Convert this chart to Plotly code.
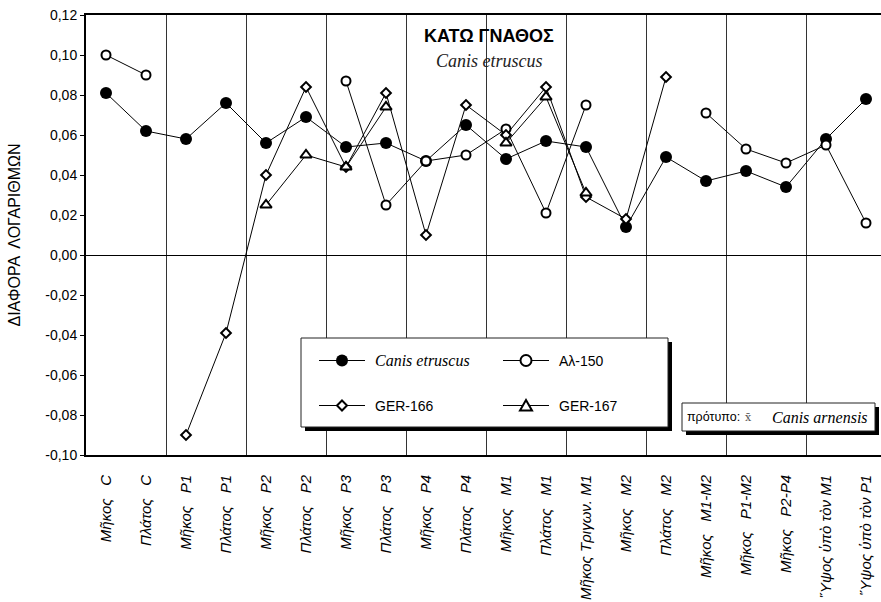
import plotly.graph_objects as go

# ---- data -------------------------------------------------------------
categories = [
    "Μῆκος   C", "Πλάτος   C", "Μῆκος   P1", "Πλάτος   P1", "Μῆκος   P2", "Πλάτος   P2",
    "Μῆκος   P3", "Πλάτος   P3", "Μῆκος   P4", "Πλάτος   P4", "Μῆκος   M1", "Πλάτος   M1",
    "Μῆκος Τριγων. M1", "Μῆκος   M2", "Πλάτος   M2", "Μῆκος   M1-M2", "Μῆκος   P1-M2",
    "Μῆκος   P2-P4", "Ὕψος ὑπὸ τὸν M1", "Ὕψος ὑπὸ τὸν P1",
]

canis_etruscus = [0.081, 0.062, 0.058, 0.076, 0.056, 0.069, 0.054, 0.056, 0.047, 0.065,
                  0.048, 0.057, 0.054, 0.014, 0.049, 0.037, 0.042, 0.034, 0.058, 0.078]
al_150 = [0.100, 0.090, None, None, None, None, 0.087, 0.025, 0.047, 0.050,
          0.063, 0.021, 0.075, None, None, 0.071, 0.053, 0.046, 0.055, 0.016]
ger_166 = [None, None, -0.090, -0.039, 0.040, 0.084, 0.044, 0.081, 0.010, 0.075,
           0.060, 0.084, 0.029, 0.018, 0.089, None, None, None, None, None]
ger_167 = [None, None, None, None, 0.025, 0.050, 0.044, 0.074, None, None,
           0.056, 0.079, 0.031, None, None, None, None, None, None, None]

y_ticks = [-0.10, -0.08, -0.06, -0.04, -0.02, 0.00, 0.02, 0.04, 0.06, 0.08, 0.10, 0.12]
y_ticktext = ["-0,10", "-0,08", "-0,06", "-0,04", "-0,02", "0,00",
              "0,02", "0,04", "0,06", "0,08", "0,10", "0,12"]

# ---- geometry helpers (pixel -> paper) --------------------------------
W, H = 881, 602
ML, MT, MB = 86, 15, 147
PW, PH = W - ML, H - MT - MB


def X(px):
    return (px - ML) / PW


def Y(py):
    return (H - MB - py) / PH


SANS = "Liberation Sans, Arial, sans-serif"
SERIF = "Liberation Serif, Times New Roman, serif"

x = list(range(1, len(categories) + 1))
boundaries = [i + 0.5 for i in range(2, len(categories), 2)]

fig = go.Figure()

series = [
    ("Canis etruscus", canis_etruscus, dict(symbol="circle", size=12, color="black",
                                            line=dict(color="black", width=0))),
    ("Αλ-150", al_150, dict(symbol="circle", size=9, color="white",
                            line=dict(color="black", width=2))),
    ("GER-166", ger_166, dict(symbol="diamond", size=7.5, color="white",
                              line=dict(color="black", width=2))),
    ("GER-167", ger_167, dict(symbol="triangle-up", size=10, color="white",
                              line=dict(color="black", width=2))),
]
for name, vals, marker in series:
    fig.add_trace(go.Scatter(
        x=x, y=vals, name=name, mode="lines+markers",
        line=dict(color="black", width=1), marker=marker,
        showlegend=False, cliponaxis=False,
    ))

shapes = []
annotations = []

# white backdrop behind the heading (hides the grid line)
shapes.append(dict(type="rect", xref="paper", yref="paper", layer="between",
                   x0=X(425), x1=X(553), y0=Y(76), y1=Y(23),
                   fillcolor="white", line=dict(width=0)))
annotations.append(dict(xref="paper", yref="paper", x=X(489), y=Y(36),
                        text="<b>ΚΑΤΩ ΓΝΑΘΟΣ</b>", showarrow=False,
                        font=dict(family=SANS, size=18, color="black"),
                        xanchor="center", yanchor="middle"))
annotations.append(dict(xref="paper", yref="paper", x=X(489), y=Y(61),
                        text="Canis etruscus", showarrow=False,
                        font=dict(family=SERIF, size=18, color="#222", style="italic"),
                        xanchor="center", yanchor="middle"))

# legend box with drop shadow
lg_l, lg_r, lg_t, lg_b, sh = 301, 668, 338, 427, 4
shapes.append(dict(type="rect", xref="paper", yref="paper", layer="above",
                   x0=X(lg_l + sh), x1=X(lg_r + sh), y0=Y(lg_b + sh), y1=Y(lg_t + sh),
                   fillcolor="black", line=dict(width=0)))
shapes.append(dict(type="rect", xref="paper", yref="paper", layer="above",
                   x0=X(lg_l), x1=X(lg_r), y0=Y(lg_b), y1=Y(lg_t),
                   fillcolor="white", line=dict(color="#222", width=1)))


def sample(cx, cy, kind):
    shapes.append(dict(type="line", xref="paper", yref="paper", layer="above",
                       x0=X(cx - 23), x1=X(cx + 23), y0=Y(cy), y1=Y(cy),
                       line=dict(color="black", width=1)))
    if kind == "filled":
        shapes.append(dict(type="circle", xref="paper", yref="paper", layer="above",
                           x0=X(cx - 6), x1=X(cx + 6), y0=Y(cy + 6), y1=Y(cy - 6),
                           fillcolor="black", line=dict(color="black", width=0)))
    elif kind == "open":
        shapes.append(dict(type="circle", xref="paper", yref="paper", layer="above",
                           x0=X(cx - 5.5), x1=X(cx + 5.5), y0=Y(cy + 5.5), y1=Y(cy - 5.5),
                           fillcolor="white", line=dict(color="black", width=2)))
    else:
        if kind == "diamond":
            pts = [(cx, cy - 5), (cx + 5, cy), (cx, cy + 5), (cx - 5, cy)]
        else:
            pts = [(cx, cy - 5.5), (cx + 6, cy + 5), (cx - 6, cy + 5)]
        path = "M " + " L ".join(f"{X(a):.5f},{Y(b):.5f}" for a, b in pts) + " Z"
        shapes.append(dict(type="path", xref="paper", yref="paper", layer="above",
                           path=path, fillcolor="white",
                           line=dict(color="black", width=2)))


rows = [360.5, 405.5]
cols = [342, 526]
legend_items = [
    (cols[0], rows[0], "filled", "Canis etruscus", SERIF, "italic", 16),
    (cols[1], rows[0], "open", "Αλ-150", SANS, "normal", 14),
    (cols[0], rows[1], "diamond", "GER-166", SANS, "normal", 14),
    (cols[1], rows[1], "triangle", "GER-167", SANS, "normal", 14),
]
for cx, cy, kind, label, fam, sty, fs in legend_items:
    sample(cx, cy, kind)
    annotations.append(dict(xref="paper", yref="paper", x=X(cx + 31), y=Y(cy),
                            text=label, showarrow=False,
                            font=dict(family=fam, size=fs, color="black", style=sty),
                            xanchor="left", yanchor="middle"))

# reference-sample note box with drop shadow
nb_l, nb_r, nb_t, nb_b = 682, 875, 403, 431
shapes.append(dict(type="rect", xref="paper", yref="paper", layer="above",
                   x0=X(nb_l + sh), x1=X(nb_r + sh), y0=Y(nb_b + sh), y1=Y(nb_t + sh),
                   fillcolor="black", line=dict(width=0)))
shapes.append(dict(type="rect", xref="paper", yref="paper", layer="above",
                   x0=X(nb_l), x1=X(nb_r), y0=Y(nb_b), y1=Y(nb_t),
                   fillcolor="white", line=dict(color="#222", width=1)))
annotations.append(dict(xref="paper", yref="paper", x=X(685), y=Y(417),
                        text="πρότυπο:", showarrow=False,
                        font=dict(family=SANS, size=12.5, color="black"),
                        xanchor="left", yanchor="middle"))
annotations.append(dict(xref="paper", yref="paper", x=X(748), y=Y(417),
                        text="x\u0304", showarrow=False,
                        font=dict(family="DejaVu Serif, serif", size=11, color="#555"),
                        xanchor="center", yanchor="middle"))
annotations.append(dict(xref="paper", yref="paper", x=X(770), y=Y(417),
                        text="Canis arnensis", showarrow=False,
                        font=dict(family=SERIF, size=16, color="black", style="italic"),
                        xanchor="left", yanchor="middle"))

fig.update_layout(
    width=W, height=H,
    margin=dict(l=ML, r=0, t=MT, b=MB, pad=0),
    paper_bgcolor="white", plot_bgcolor="white",
    shapes=shapes, annotations=annotations,
    showlegend=False,
)

fig.update_xaxes(
    range=[0.5, 0.5 + PW / 40.0], automargin=False,
    tickmode="array", tickvals=x, ticktext=categories,
    tickangle=-90, ticks="", ticklabelstandoff=12,
    tickfont=dict(family=SANS, size=15, color="black", style="italic"),
    showgrid=False, zeroline=False,
    showline=True, linecolor="black", linewidth=2, mirror=True,
    minor=dict(tickmode="array", tickvals=boundaries, showgrid=True,
               gridcolor="#333", gridwidth=1, ticks=""),
)

fig.update_yaxes(
    range=[-0.10, 0.12], automargin=False,
    tickmode="array", tickvals=y_ticks, ticktext=y_ticktext,
    ticks="outside", ticklen=4, tickwidth=1, tickcolor="black",
    tickfont=dict(family=SANS, size=14, color="black"),
    showgrid=False,
    zeroline=True, zerolinecolor="black", zerolinewidth=1,
    showline=True, linecolor="black", linewidth=2, mirror=False,
    title=dict(text="ΔΙΑΦΟΡΑ  ΛΟΓΑΡΙΘΜΩΝ", standoff=21,
               font=dict(family=SANS, size=16, color="black")),
)

fig.write_html("out.html")
